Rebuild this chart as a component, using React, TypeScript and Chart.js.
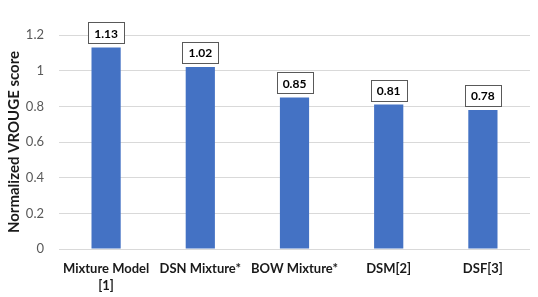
import React, { useEffect, useRef } from "react";
import { Chart, registerables } from "chart.js";

Chart.register(...registerables);

const categories: (string | string[])[] = [["Mixture Model", "[1]"], "DSN Mixture*", "BOW Mixture*", "DSM[2]", "DSF[3]"];
const scores: number[] = [1.13, 1.02, 0.85, 0.81, 0.78];
const valueLabels: string[] = ["1.13", "1.02", "0.85", "0.81", "0.78"];
const yTitle = "Normalized VROUGE score";

const FONT = "Lato, 'Open Sans', sans-serif";

const boxLabels = {
  id: "boxLabels",
  afterDatasetsDraw(chart: any) {
    const ctx = chart.ctx;
    const meta = chart.getDatasetMeta(0);
    ctx.save();
    ctx.font = `bold 12px ${FONT}`;
    ctx.textAlign = "center";
    ctx.textBaseline = "middle";
    meta.data.forEach((bar: any, i: number) => {
      const text = valueLabels[i];
      const w = ctx.measureText(text).width + 12;
      const h = 21;
      const x = bar.x;
      const bottom = bar.y - 4;
      ctx.fillStyle = "#ffffff";
      ctx.fillRect(Math.round(x - w / 2) + 0.5, Math.round(bottom - h) + 0.5, Math.round(w), h);
      ctx.strokeStyle = "#595959";
      ctx.lineWidth = 1;
      ctx.strokeRect(Math.round(x - w / 2) + 0.5, Math.round(bottom - h) + 0.5, Math.round(w), h);
      ctx.fillStyle = "#000000";
      ctx.fillText(text, x, bottom - h / 2 + 1);
    });
    // y-axis title, centred on the plot area
    const area = chart.chartArea;
    ctx.translate(14, (area.top + area.bottom) / 2);
    ctx.rotate(-Math.PI / 2);
    ctx.font = `bold 15px ${FONT}`;
    ctx.fillStyle = "#1a1a1a";
    ctx.fillText(yTitle, 0, 0);
    ctx.restore();
  },
};

export default function App() {
  const ref = useRef<HTMLCanvasElement>(null);
  useEffect(() => {
    document.body.style.margin = "0";
    const chart = new Chart(ref.current!, {
      type: "bar",
      data: {
        labels: categories,
        datasets: [
          {
            data: scores,
            backgroundColor: "#4472C4",
            categoryPercentage: 1,
            barPercentage: 0.31,
          },
        ],
      },
      options: {
        animation: false,
        responsive: false,
        maintainAspectRatio: false,
        layout: { padding: { top: 35, right: 8, left: 0, bottom: 0 } },
        plugins: { legend: { display: false }, tooltip: { enabled: false } },
        scales: {
          x: {
            grid: { display: false },
            border: { display: false },
            ticks: {
              color: "#1a1a1a",
              font: { family: FONT, size: 13, weight: "bold", lineHeight: 1.3 },
              padding: 3,
              maxRotation: 0,
              autoSkip: false,
            },
            afterFit: (s: any) => {
              s.height = 48;
            },
          },
          y: {
            min: 0,
            max: 1.2,
            ticks: {
              stepSize: 0.2,
              color: "#595959",
              font: { family: FONT, size: 13 },
              padding: 15,
              callback: (v: any) => String(Math.round(Number(v) * 10) / 10),
            },
            grid: { color: "#d9d9d9", lineWidth: 1, drawTicks: false },
            border: { display: false },
            afterFit: (s: any) => {
              s.width = 59;
            },
          },
        },
      },
      plugins: [boxLabels],
    });
    return () => chart.destroy();
  }, []);
  return (
    <div style={{ width: 538, height: 297 }}>
      <canvas ref={ref} width={538} height={297} style={{ width: 538, height: 297, display: "block" }} />
    </div>
  );
}
